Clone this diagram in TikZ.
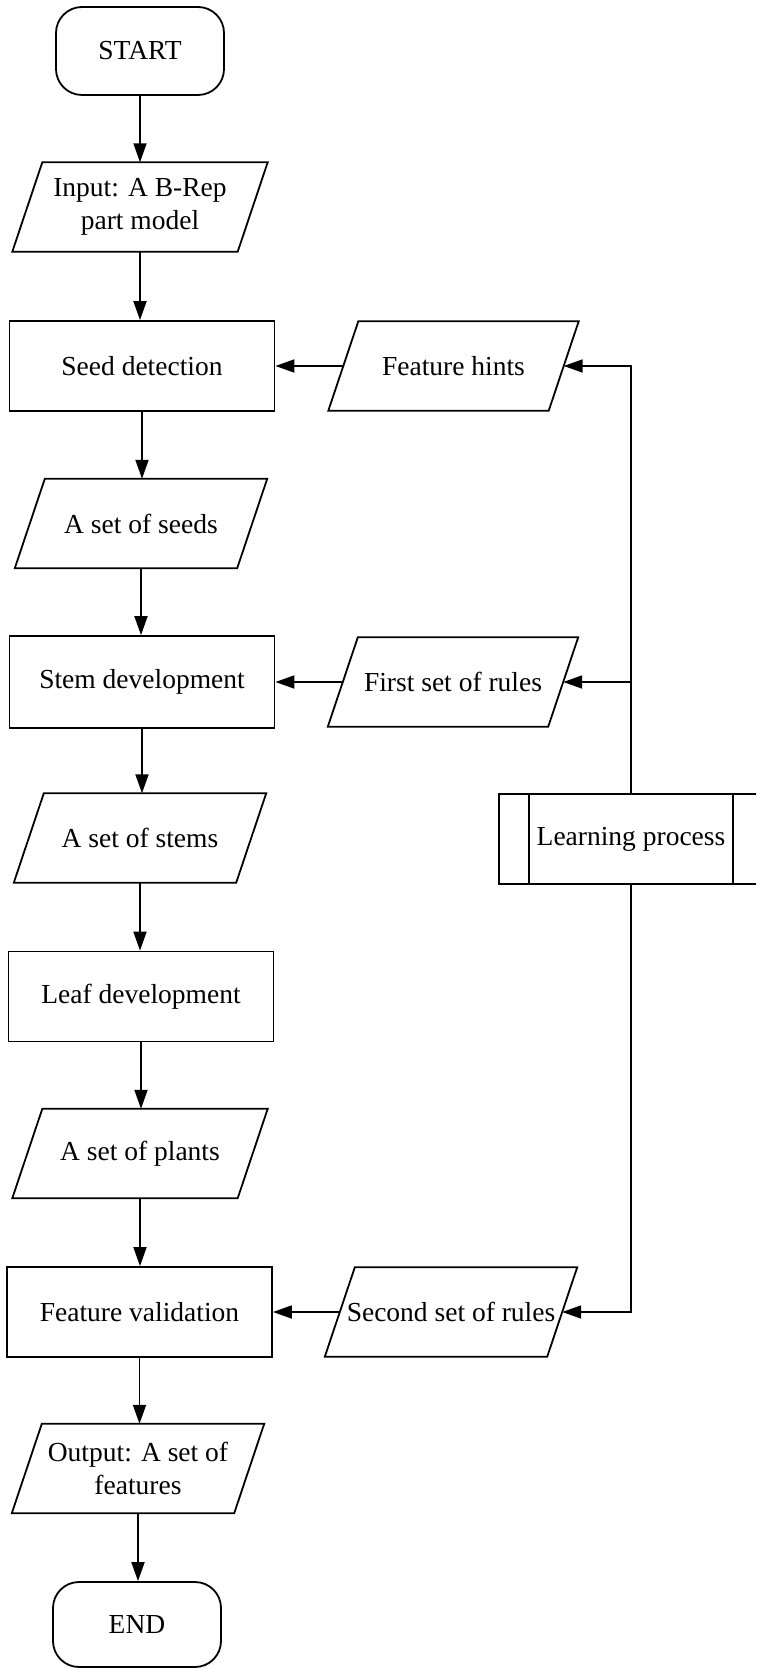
\documentclass[tikz,border=0pt]{standalone}
\usepackage{fontspec}
\setmainfont{Liberation Serif}
\usetikzlibrary{arrows.meta}
\begin{document}
\begin{tikzpicture}[x=1pt,y=-1pt,
  every node/.style={font=\fontsize{27.5}{33}\selectfont, inner sep=0pt, align=center},
  proc/.style={draw, line width=1.8pt, minimum width=265pt, minimum height=90pt},
  term/.style={draw, line width=1.8pt, rounded corners=26pt, minimum width=168pt, minimum height=88pt},
  io/.style={minimum width=222pt, minimum height=89pt},
  link/.style={line width=1.8pt},
  flow/.style={line width=1.8pt, -{Triangle[length=19pt,width=13pt]}}
]
\useasboundingbox (0,0) rectangle (756,1669);
\clip (0,0) rectangle (756,1669);

% main column
\node[term] (start) at (140,51) {START};
\node[io, minimum width=225pt] (input) at (140,207) {Input: A B-Rep\\part model};
\node[proc] (seed) at (142,366) {Seed detection};
\node[io] (seeds) at (141,523.5) {A set of seeds};
\node[proc, minimum height=92pt] (stem) at (142,682) {Stem development};
\node[io] (stems) at (140,838) {A set of stems};
\node[proc] (leaf) at (141,996.5) {Leaf development};
\node[io, minimum width=225pt] (plants) at (140,1153.5) {A set of plants};
\node[proc] (valid) at (139.5,1312) {Feature validation};
\node[io] (output) at (138,1468.5) {Output: A set of\\features};
\node[term, minimum height=85pt] (finish) at (137,1624.5) {END};

% side column
\node[io, minimum width=220pt] (hints) at (453.5,366) {Feature hints};
\node[io, minimum width=220pt] (rules1) at (453,682) {First set of rules};
\node[proc, minimum width=264pt] (learn) at (631,839) {Learning process};
\node[io] (rules2) at (451,1312) {Second set of rules};

% predefined-process bars
\draw[link] ([xshift=31pt]learn.north west) -- ([xshift=31pt]learn.south west);
\draw[link] ([xshift=-31pt]learn.north east) -- ([xshift=-31pt]learn.south east);

% data (parallelogram) outlines
\foreach \n in {input,seeds,stems,plants,output,hints,rules1,rules2}{
  \draw[link, line join=miter]
    ([xshift=15pt]\n.north west) -- ([xshift=15pt]\n.north east) --
    ([xshift=-15pt]\n.south east) -- ([xshift=-15pt]\n.south west) -- cycle;
}

% main flow
\draw[flow] (start.south) -- (start.south |- input.north);
\draw[flow] (input.south) -- (input.south |- seed.north);
\draw[flow] (seed.south) -- (seed.south |- seeds.north);
\draw[flow] (seeds.south) -- (seeds.south |- stem.north);
\draw[flow] (stem.south) -- (stem.south |- stems.north);
\draw[flow] (stems.south) -- (stems.south |- leaf.north);
\draw[flow] (leaf.south) -- (leaf.south |- plants.north);
\draw[flow] (plants.south) -- (plants.south |- valid.north);
\draw[flow] (valid.south) -- (valid.south |- output.north);
\draw[flow] (output.south) -- (output.south |- finish.north);

% learning feedback
\draw[flow] (learn.north) |- (hints.east);
\draw[flow] (learn.north |- rules1.east) -- (rules1.east);
\draw[flow] (learn.south) |- (rules2.east);
\draw[flow] (hints.west) -- (seed.east);
\draw[flow] (rules1.west) -- (stem.east);
\draw[flow] (rules2.west) -- (valid.east);
\end{tikzpicture}
\end{document}
